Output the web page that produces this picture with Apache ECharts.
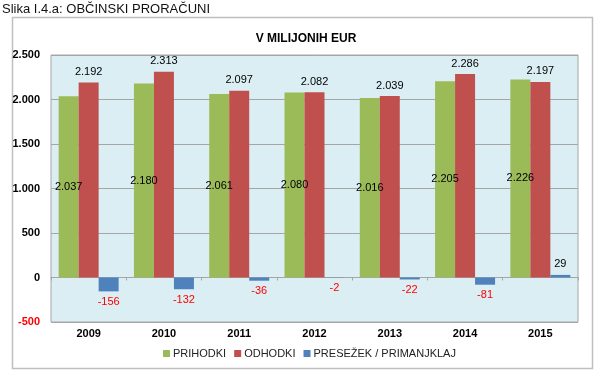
<!DOCTYPE html>
<html>
<head>
<meta charset="utf-8">
<script src="https://cdn.jsdelivr.net/npm/echarts@6/dist/echarts.min.js"></script>
<style>
html,body{margin:0;padding:0;background:#fff;}
#c{width:599px;height:370px;}
</style>
</head>
<body>
<div id="c"></div>
<script>
var categories = ['2009','2010','2011','2012','2013','2014','2015'];
var prihodki = [2037, 2180, 2061, 2080, 2016, 2205, 2226];
var odhodki = [2192, 2313, 2097, 2082, 2039, 2286, 2197];
var presezek = [-156, -132, -36, -2, -22, -81, 29];
var seriesNames = ['PRIHODKI', 'ODHODKI', 'PRESEŽEK / PRIMANJKLAJ'];
var yTicks = [-500, 0, 500, 1000, 1500, 2000, 2500];

var FONT = 'Liberation Sans, Arial, sans-serif';
function fmt(v){
  var s = Math.abs(v).toString();
  s = s.replace(/\B(?=(\d{3})+(?!\d))/g, '.');
  return (v < 0 ? '-' : '') + s;
}

var chart = echarts.init(document.getElementById('c'));
chart.setOption({
  animation: false,
  backgroundColor: '#fff',
  textStyle: {fontFamily: FONT},
  title: [
    {text: 'Slika I.4.a: OBČINSKI PRORAČUNI', left: 2, top: 3, padding: 0,
     textStyle: {fontFamily: FONT, fontSize: 13, fontWeight: 'normal', color: '#111'}},
    {text: 'V MILIJONIH EUR', left: 301, textAlign: 'center', top: 28,
     textStyle: {fontFamily: FONT, fontSize: 12, fontWeight: 'bold', color: '#000'}}
  ],
  graphic: [
    {type: 'rect', shape: {x: 12.5, y: 17.5, width: 580, height: 351},
     style: {fill: 'none', stroke: '#bfbfbf', lineWidth: 1.5}, z: -1}
  ],
  legend: {
    data: seriesNames,
    left: 158, top: 343,
    itemWidth: 7, itemHeight: 7, itemGap: 8,
    icon: 'rect',
    textStyle: {fontFamily: FONT, fontSize: 11, color: '#222', padding: [0,0,0,-2]}
  },
  grid: {
    left: 51, right: 21, top: 55, bottom: 48,
    show: true, backgroundColor: '#dbeef4', borderColor: '#a6a6a6', borderWidth: 1
  },
  xAxis: [
    {type: 'category', data: categories, position: 'bottom',
     axisLine: {show: false, onZero: false}, axisTick: {show: false},
     axisLabel: {fontFamily: FONT, fontSize: 11, fontWeight: 'bold', color: '#000', margin: 6}},
    {type: 'category', data: categories, position: 'bottom',
     axisLine: {show: true, onZero: true, lineStyle: {color: '#a6a6a6', width: 1}},
     axisTick: {show: true, length: 3, lineStyle: {color: '#a6a6a6'}},
     axisLabel: {show: false}}
  ],
  yAxis: {
    type: 'value', min: -500, max: 2500, interval: 500,
    axisLine: {show: false}, axisTick: {show: false},
    splitLine: {lineStyle: {color: '#a6a6a6', width: 1}},
    axisLabel: {
      fontFamily: FONT, fontSize: 11, fontWeight: 'bold', margin: 11,
      formatter: function(v){ return fmt(v); },
      color: function(v){ return Number(v) < 0 ? '#ff0000' : '#000'; }
    }
  },
  series: [
    {name: seriesNames[0], type: 'bar', xAxisIndex: 0, data: prihodki,
     barWidth: 20, barGap: '0%', itemStyle: {color: '#9bbb59'},
     label: {show: true, position: 'inside', color: '#000', fontFamily: FONT, fontSize: 11,
             formatter: function(p){ return fmt(p.value); }}},
    {name: seriesNames[1], type: 'bar', xAxisIndex: 0, data: odhodki,
     barWidth: 20, barGap: '0%', itemStyle: {color: '#c0504d'},
     label: {show: true, position: 'top', distance: 5, color: '#000', fontFamily: FONT, fontSize: 11,
             formatter: function(p){ return fmt(p.value); }}},
    {name: seriesNames[2], type: 'bar', xAxisIndex: 0,
     data: presezek.map(function(v){
       return {value: v, label: v < 0
         ? {position: 'bottom', color: '#ff0000'}
         : {position: 'top', color: '#000'}};
     }),
     barWidth: 20, barGap: '0%', itemStyle: {color: '#4f81bd'},
     label: {show: true, distance: 5, fontFamily: FONT, fontSize: 11,
             formatter: function(p){ return fmt(p.value); }}}
  ]
});
</script>
</body>
</html>
